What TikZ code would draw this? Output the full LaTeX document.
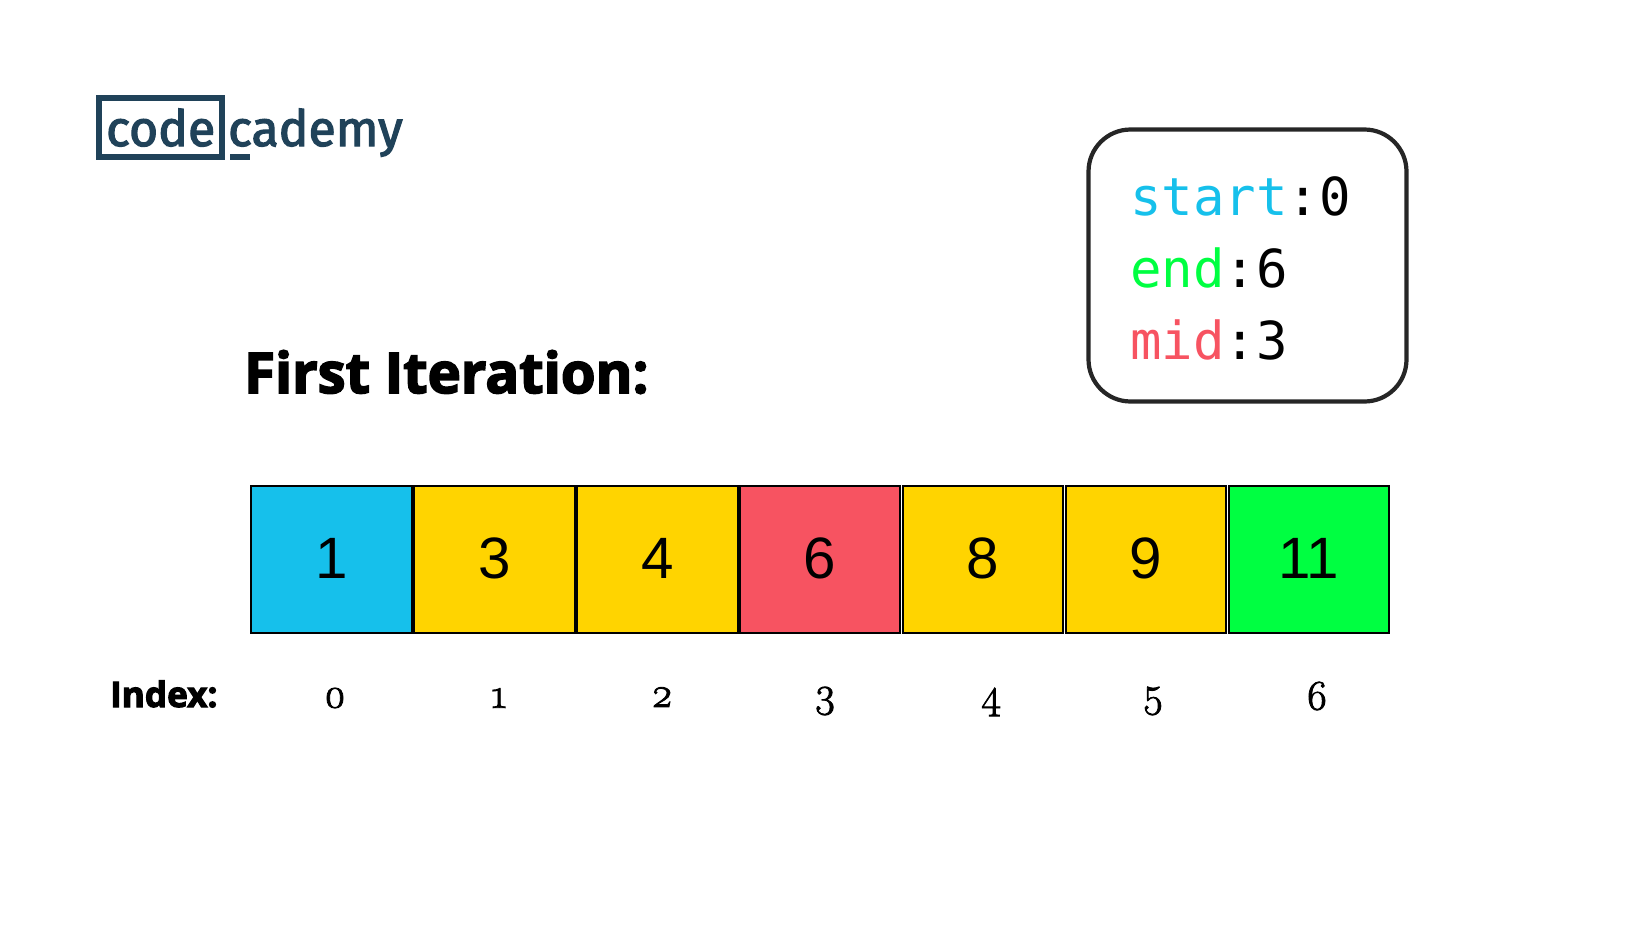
\documentclass[tikz,border=0pt]{standalone}
\usepackage{fontspec}
\usepackage{xcolor}
\setmainfont{Liberation Sans}
\newfontfamily\logofont[FakeBold=2.5]{Fira Sans}
\newfontfamily\titlefont[FakeBold=3]{Open Sans Bold}
\newfontfamily\codefont{DejaVu Sans Mono}
\newfontfamily\numfont[Numbers=OldStyle,FakeBold=2]{Latin Modern Roman}
\definecolor{startblue}{RGB}{22,192,235}
\definecolor{midgold}{RGB}{255,212,0}
\definecolor{midred}{RGB}{247,83,97}
\definecolor{endgreen}{RGB}{0,255,65}
\definecolor{logoblue}{RGB}{32,66,89}
\newcommand{\pxfont}[2]{\fontsize{#1}{#2}\selectfont}
\begin{document}
\begin{tikzpicture}[
    x=0.05cm,y=-0.05cm,
    cell/.style={rectangle,draw=black,line width=3pt,minimum width=8.02cm,minimum height=7.32cm,
      inner sep=0pt,text depth=3pt,font=\pxfont{83}{90}},
    idx/.style={inner sep=0pt,font=\numfont\pxfont{60}{60}},
    codeline/.style={inner sep=0pt,anchor=base west,font=\codefont\pxfont{74.5}{80}},
    logoword/.style={anchor=base west,inner sep=0pt,text=logoblue,font=\logofont\pxfont{71}{71}}
  ]
    \useasboundingbox (0,0) rectangle (1640,924);
    % logo
    \node[draw=logoblue,line width=9pt,minimum width=6.15cm,minimum height=2.95cm,inner sep=0pt] (logoframe) at (160.5,127.5) {};
    \node[logoword] (logocode) at (106,146) {code};
    \node[logoword] (logorest) at (228,146) {cademy};
    \fill[logoblue] (230,154) rectangle (250,160);
    % title and state box
    \node[anchor=base west,inner sep=0pt,font=\titlefont\pxfont{80}{80}] (title) at (244,393) {First Iteration:};
    \node[draw=black!85,line width=6pt,rounded corners=2.1cm,minimum width=15.9cm,minimum height=13.6cm,inner sep=0pt] (statebox) at (1247.5,265.5) {};
    \node[codeline] (startline) at (1130,215) {\textcolor{startblue}{start}:0};
    \node[codeline] (endline) at (1130,287) {\textcolor{endgreen}{end}:6};
    \node[codeline] (midline) at (1130,359) {\textcolor{midred}{mid}:3};
    % array
    \node[cell,fill=startblue] (c0) at (331.5,559.5) {1};
    \node[cell,fill=midgold] (c1) at (494.5,559.5) {3};
    \node[cell,fill=midgold] (c2) at (657.5,559.5) {4};
    \node[cell,fill=midred] (c3) at (820,559.5) {6};
    \node[cell,fill=midgold] (c4) at (983,559.5) {8};
    \node[cell,fill=midgold] (c5) at (1146,559.5) {9};
    \node[cell,fill=endgreen] (c6) at (1309,559.5) {11};
    % index row
    \node[anchor=base west,inner sep=0pt,font=\titlefont\pxfont{50}{50}] (indexlabel) at (110,707) {Index:};
    \node[idx] (i0) at (335,698) {0};
    \node[idx] (i1) at (499,698) {1};
    \node[idx] (i2) at (662,697) {2};
    \node[idx] (i3) at (825,701) {3};
    \node[idx] (i4) at (991,702) {4};
    \node[idx] (i5) at (1153,701) {5};
    \node[idx] (i6) at (1317,696) {6};
\end{tikzpicture}
\end{document}
